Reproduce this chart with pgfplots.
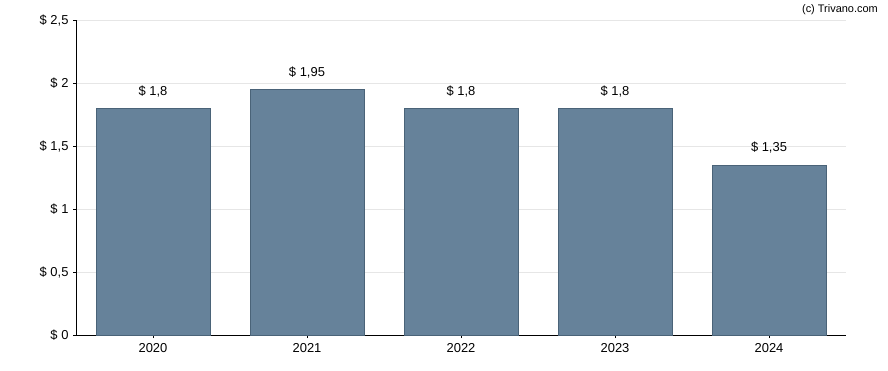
\documentclass[border=0pt]{standalone}
\usepackage{pgfplots}
\pgfplotsset{compat=1.18}
\usepackage{fontspec}
\setmainfont{Liberation Sans}
\definecolor{barfill}{HTML}{66829A}
\definecolor{barline}{HTML}{4A6378}
\definecolor{gridc}{HTML}{E6E6E6}
\begin{document}
\begin{tikzpicture}[x=1bp,y=1bp]
\path[use as bounding box] (0,0) rectangle (888,370);
\begin{axis}[
  at={(76bp,35bp)}, anchor=south west,
  scale only axis, width=770bp, height=314.5bp,
  xmin=-0.5, xmax=4.5, ymin=0, ymax=2.5,
  axis lines=left, axis line style={-, black, line width=0.8pt},
  xtick={0,1,2,3,4}, xticklabels={2020,2021,2022,2023,2024},
  ytick={0,0.5,1,1.5,2,2.5},
  yticklabel={\$ \pgfmathprintnumber{\tick}},
  /pgf/number format/use comma,
  /pgf/number format/assume math mode=true,
  tick align=outside, major tick length=3bp,
  tick style={black, line width=0.8pt},
  ymajorgrids, grid style={gridc, line width=0.8pt},
  ticklabel style={font=\fontsize{13}{15}\selectfont},
  xticklabel style={yshift=-2bp},
  yticklabel style={xshift=-1bp},
  ybar, bar width=0.74, bar shift=0pt,
  nodes near coords={\$ \pgfmathprintnumber{\pgfplotspointmeta}},
  nodes near coords style={font=\fontsize{13}{15}\selectfont, anchor=south, yshift=8bp, /pgf/number format/use comma, /pgf/number format/assume math mode=true},
  clip=false,
]
\addplot[fill=barfill, draw=barline, line width=0.7pt] coordinates {(0,1.8) (1,1.95) (2,1.8) (3,1.8) (4,1.35)};
\end{axis}
\node[anchor=base east, font=\fontsize{11}{13}\selectfont, inner sep=0pt] at (878,358) {(c) Trivano.com};
\end{tikzpicture}
\end{document}
